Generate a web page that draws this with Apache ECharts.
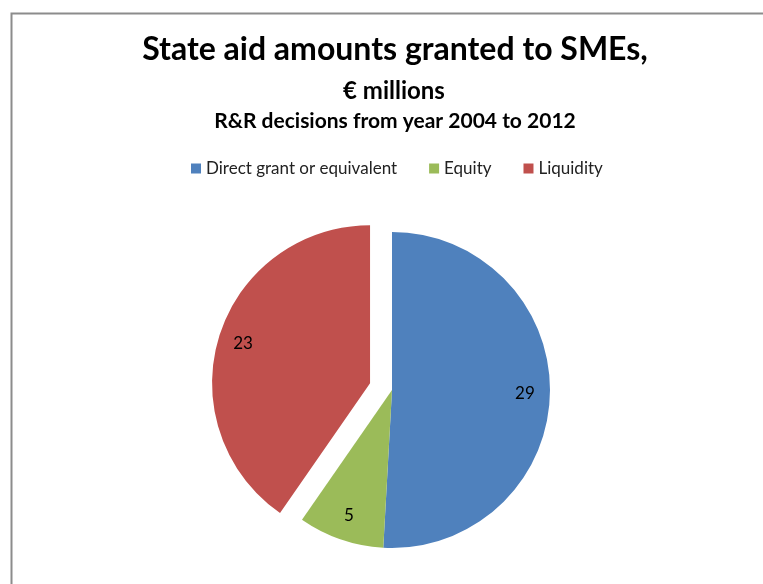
<!DOCTYPE html>
<html>

<head>
  <meta charset="utf-8">
  <title>State aid amounts granted to SMEs</title>
  <script src="https://cdn.jsdelivr.net/npm/echarts@6/dist/echarts.min.js"></script>
  <style>
    html, body { margin: 0; padding: 0; background: #fff; }
  </style>
</head>

<body>
  <div id="main" style="width: 763px;height:584px;"></div>
  <script type="text/javascript">
    // data
    var categories = ['Direct grant or equivalent', 'Equity', 'Liquidity'];
    var amounts = [29, 5, 23];
    var colors = ['#4F81BD', '#9BBB59', '#C0504D'];
    var explodedName = 'Liquidity';

    var font = 'Lato, Calibri, sans-serif';

    var slices = categories.map(function (name, i) {
      return {
        name: name,
        value: amounts[i],
        selected: name === explodedName,
        itemStyle: { color: colors[i] }
      };
    });

    // second pie, transparent, only to place the labels further out
    var labelSlices = categories.map(function (name, i) {
      return {
        name: name,
        value: amounts[i],
        selected: name === explodedName
      };
    });

    var myChart = echarts.init(document.getElementById('main'));
    var option = {
      animation: false,
      title: [
        {
          text: 'State aid amounts granted to SMEs,',
          left: 390, top: 29, textAlign: 'center',
          textStyle: { fontFamily: font, fontSize: 32, fontWeight: 'bold', color: '#000' }
        },
        {
          text: '€ millions',
          left: 389, top: 74, textAlign: 'center',
          textStyle: { fontFamily: font, fontSize: 24, fontWeight: 'bold', color: '#000' }
        },
        {
          text: 'R&R decisions from year 2004 to 2012',
          left: 390, top: 106, textAlign: 'center',
          textStyle: { fontFamily: font, fontSize: 21, fontWeight: 'bold', color: '#000' }
        }
      ],
      legend: {
        data: categories,
        top: 155,
        left: 186,
        icon: 'rect',
        itemWidth: 10,
        itemHeight: 10,
        itemGap: 32,
        textStyle: { fontFamily: font, fontSize: 17, color: '#222' }
      },
      graphic: [
        {
          type: 'polyline',
          shape: { points: [[763, 13.5], [11.5, 13.5], [11.5, 584]] },
          style: { stroke: '#8c8c8c', lineWidth: 2, fill: null },
          silent: true
        }
      ],
      series: [
        {
          name: 'amounts',
          type: 'pie',
          center: [392, 390],
          radius: 158,
          startAngle: 90,
          clockwise: true,
          selectedMode: 'single',
          selectedOffset: 23,
          label: { show: false },
          labelLine: { show: false },
          emphasis: { disabled: true },
          data: slices
        },
        {
          name: 'labels',
          type: 'pie',
          center: [392, 390],
          radius: [102, 158],
          startAngle: 90,
          clockwise: true,
          selectedMode: 'single',
          selectedOffset: 23,
          silent: true,
          itemStyle: { color: 'rgba(0,0,0,0)' },
          label: {
            show: true,
            position: 'inside',
            formatter: '{c}',
            fontFamily: font,
            fontSize: 17,
            color: '#000'
          },
          labelLine: { show: false },
          emphasis: { disabled: true },
          data: labelSlices
        }
      ]
    };

    myChart.setOption(option);
  </script>
</body>

</html>
